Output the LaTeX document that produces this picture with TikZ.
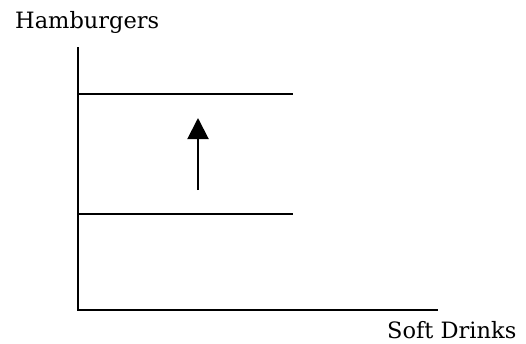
\documentclass[tikz,border=0pt]{standalone}
\usepackage{fontspec}
\setmainfont{DejaVu Serif}
\usetikzlibrary{arrows.meta}
\begin{document}
\begin{tikzpicture}[x=1pt,y=-1pt,
  axisline/.style={line width=2pt},
  budget/.style={line width=2pt},
  shiftarrow/.style={line width=2pt,-{Triangle[length=21pt,width=21pt]}},
  lbl/.style={font=\fontsize{22.5}{24}\selectfont,inner sep=0pt,anchor=base west}]
\useasboundingbox (0,0) rectangle (526,343);
\coordinate (top) at (77.5,47);
\coordinate (origin) at (77.5,310);
\coordinate (xend) at (438,310);
\coordinate (u0) at (77.5,94);
\coordinate (u1) at (293,94);
\coordinate (l0) at (77.5,213.5);
\coordinate (l1) at (293,213.5);
\coordinate (a0) at (198,190);
\coordinate (a1) at (198,118);
\draw[axisline] (top) -- (origin) -- (xend);
\draw[budget] (u0) -- (u1);
\draw[budget] (l0) -- (l1);
\draw[shiftarrow] (a0) -- (a1);
\node[lbl] (ylab) at (15,28) {Hamburgers};
\node[lbl] (xlab) at (387,338) {Soft Drinks};
\end{tikzpicture}
\end{document}
